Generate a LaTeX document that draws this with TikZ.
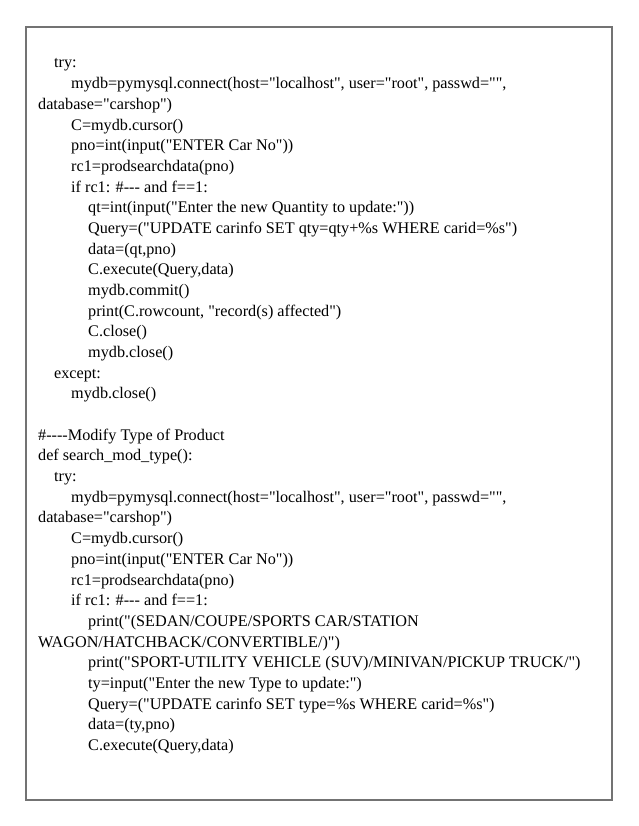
\documentclass[tikz,border=0pt]{standalone}
\usepackage{fontspec}
\setmainfont{Liberation Serif}[Ligatures=TeXOff]
\begin{document}
\begin{tikzpicture}[x=1pt,y=-1pt,
  code/.style={anchor=base west,inner sep=0pt,font=\fontsize{16.2}{18}\selectfont}]
\useasboundingbox (0,0) rectangle (638,826);
\draw[line width=2pt,draw=black!55] (26,27) rectangle (612,800);
\def\s{20.68}
\def\a{38}\def\b{54}\def\c{71}\def\d{88}
\node[code] (l0) at (\b,68+0*\s) {try:};
\node[code] (l1) at (\c,68+1*\s) {mydb=pymysql.connect(host="localhost", user="root", passwd="",};
\node[code] (l2) at (\a,68+2*\s) {database="carshop")};
\node[code] (l3) at (\c,68+3*\s) {C=mydb.cursor()};
\node[code] (l4) at (\c,68+4*\s) {pno=int(input("ENTER Car No"))};
\node[code] (l5) at (\c,68+5*\s) {rc1=prodsearchdata(pno)};
\node[code] (l6) at (\c,68+6*\s) {if rc1: \#--- and f==1:};
\node[code] (l7) at (\d,68+7*\s) {qt=int(input("Enter the new Quantity to update:"))};
\node[code] (l8) at (\d,68+8*\s) {Query=("UPDATE carinfo SET qty=qty+\%s WHERE carid=\%s")};
\node[code] (l9) at (\d,68+9*\s) {data=(qt,pno)};
\node[code] (l10) at (\d,68+10*\s) {C.execute(Query,data)};
\node[code] (l11) at (\d,68+11*\s) {mydb.commit()};
\node[code] (l12) at (\d,68+12*\s) {print(C.rowcount, "record(s) affected")};
\node[code] (l13) at (\d,68+13*\s) {C.close()};
\node[code] (l14) at (\d,68+14*\s) {mydb.close()};
\node[code] (l15) at (\b,68+15*\s) {except:};
\node[code] (l16) at (\c,68+16*\s) {mydb.close()};
\node[code] (l18) at (\a,68+18*\s) {\#----Modify Type of Product};
\node[code] (l19) at (\a,68+19*\s) {def search\_mod\_type():};
\node[code] (l20) at (\b,68+20*\s) {try:};
\node[code] (l21) at (\c,68+21*\s) {mydb=pymysql.connect(host="localhost", user="root", passwd="",};
\node[code] (l22) at (\a,68+22*\s) {database="carshop")};
\node[code] (l23) at (\c,68+23*\s) {C=mydb.cursor()};
\node[code] (l24) at (\c,68+24*\s) {pno=int(input("ENTER Car No"))};
\node[code] (l25) at (\c,68+25*\s) {rc1=prodsearchdata(pno)};
\node[code] (l26) at (\c,68+26*\s) {if rc1: \#--- and f==1:};
\node[code] (l27) at (\d,68+27*\s) {print("(SEDAN/COUPE/SPORTS CAR/STATION};
\node[code] (l28) at (\a,68+28*\s) {WAGON/HATCHBACK/CONVERTIBLE/)")};
\node[code] (l29) at (\d,68+29*\s) {print("SPORT-UTILITY VEHICLE (SUV)/MINIVAN/PICKUP TRUCK/")};
\node[code] (l30) at (\d,68+30*\s) {ty=input("Enter the new Type to update:")};
\node[code] (l31) at (\d,68+31*\s) {Query=("UPDATE carinfo SET type=\%s WHERE carid=\%s")};
\node[code] (l32) at (\d,68+32*\s) {data=(ty,pno)};
\node[code] (l33) at (\d,68+33*\s) {C.execute(Query,data)};
\end{tikzpicture}
\end{document}
